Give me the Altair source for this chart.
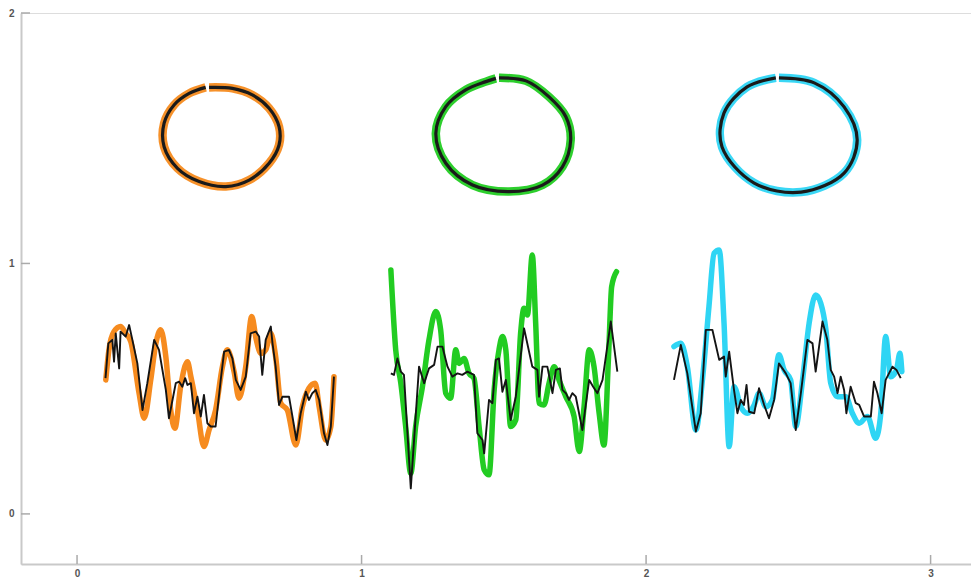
import altair as alt
import pandas as pd

# ---------------- data ----------------
series_names = ["orange", "green", "cyan"]
series_colors = ["#F68B1F", "#22CC22", "#2FD5F4"]

x_ticks = [0, 1, 2, 3]
y_ticks = [0, 1, 2]

# closed-ish loops (start at the top, clockwise, small gap at the end)
orange_loop_x = [0.464, 0.546, 0.616, 0.675, 0.710, 0.710, 0.675, 0.605, 0.523, 0.429,
                 0.353, 0.306, 0.306, 0.341, 0.394, 0.452]
orange_loop_y = [1.703, 1.699, 1.673, 1.620, 1.546, 1.473, 1.400, 1.333, 1.307, 1.327,
                 1.380, 1.466, 1.560, 1.633, 1.679, 1.703]
green_loop_x = [1.483, 1.578, 1.659, 1.718, 1.735, 1.706, 1.636, 1.518, 1.390, 1.296,
                1.261, 1.296, 1.366, 1.437, 1.472]
green_loop_y = [1.741, 1.729, 1.665, 1.586, 1.493, 1.386, 1.313, 1.287, 1.313, 1.400,
                1.520, 1.626, 1.693, 1.726, 1.739]
cyan_loop_x = [2.467, 2.591, 2.696, 2.742, 2.696, 2.545, 2.380, 2.267, 2.274, 2.355, 2.456]
cyan_loop_y = [1.741, 1.721, 1.625, 1.493, 1.361, 1.285, 1.321, 1.465, 1.601, 1.705, 1.741]

# black (reconstruction) traces
orange_black_x = [0.100, 0.110, 0.124, 0.130, 0.136, 0.148, 0.153, 0.171, 0.183, 0.192,
                  0.212, 0.230, 0.247, 0.271, 0.288, 0.312, 0.323, 0.347, 0.359, 0.370,
                  0.380, 0.388, 0.400, 0.411, 0.423, 0.435, 0.446, 0.458, 0.470, 0.487,
                  0.505, 0.517, 0.534, 0.546, 0.558, 0.575, 0.593, 0.610, 0.628, 0.640,
                  0.651, 0.663, 0.681, 0.687, 0.698, 0.710, 0.722, 0.745, 0.757, 0.771,
                  0.786, 0.804, 0.815, 0.827, 0.839, 0.851, 0.868, 0.880, 0.892, 0.903]
orange_black_y = [0.542, 0.681, 0.695, 0.608, 0.721, 0.581, 0.728, 0.708, 0.754, 0.708,
                  0.601, 0.415, 0.522, 0.695, 0.655, 0.495, 0.382, 0.522, 0.528, 0.508,
                  0.542, 0.515, 0.522, 0.402, 0.468, 0.389, 0.475, 0.362, 0.349, 0.349,
                  0.535, 0.648, 0.655, 0.621, 0.535, 0.495, 0.548, 0.721, 0.728, 0.708,
                  0.555, 0.695, 0.748, 0.681, 0.588, 0.435, 0.468, 0.468, 0.389, 0.295,
                  0.402, 0.488, 0.455, 0.482, 0.495, 0.455, 0.322, 0.275, 0.349, 0.548]
green_black_x = [1.103, 1.114, 1.126, 1.138, 1.149, 1.173, 1.202, 1.220, 1.237, 1.255,
                 1.267, 1.284, 1.302, 1.319, 1.337, 1.354, 1.372, 1.395, 1.407, 1.425,
                 1.431, 1.448, 1.460, 1.472, 1.483, 1.495, 1.507, 1.524, 1.542, 1.571,
                 1.600, 1.618, 1.624, 1.636, 1.653, 1.671, 1.683, 1.697, 1.706, 1.718,
                 1.729, 1.741, 1.753, 1.776, 1.800, 1.814, 1.829, 1.847, 1.876, 1.899]
green_black_y = [0.561, 0.555, 0.621, 0.568, 0.555, 0.102, 0.588, 0.522, 0.581, 0.595,
                 0.668, 0.668, 0.588, 0.548, 0.561, 0.555, 0.568, 0.555, 0.322, 0.295,
                 0.242, 0.455, 0.442, 0.615, 0.621, 0.488, 0.535, 0.375, 0.468, 0.741,
                 0.588, 0.575, 0.468, 0.588, 0.588, 0.482, 0.575, 0.581, 0.495, 0.482,
                 0.455, 0.482, 0.468, 0.335, 0.535, 0.508, 0.482, 0.535, 0.768, 0.568]
cyan_black_x = [2.098, 2.122, 2.145, 2.175, 2.192, 2.210, 2.233, 2.257, 2.274, 2.280,
                2.292, 2.309, 2.321, 2.333, 2.344, 2.353, 2.362, 2.380, 2.397, 2.415,
                2.432, 2.450, 2.467, 2.491, 2.508, 2.526, 2.544, 2.567, 2.585, 2.596,
                2.620, 2.637, 2.649, 2.661, 2.673, 2.684, 2.696, 2.704, 2.719, 2.737,
                2.749, 2.766, 2.790, 2.801, 2.813, 2.828, 2.842, 2.866, 2.880, 2.895]
cyan_black_y = [0.535, 0.675, 0.561, 0.329, 0.402, 0.735, 0.735, 0.615, 0.628, 0.548,
                0.648, 0.495, 0.402, 0.455, 0.435, 0.515, 0.408, 0.402, 0.502, 0.435,
                0.382, 0.455, 0.601, 0.561, 0.522, 0.335, 0.482, 0.695, 0.681, 0.568,
                0.768, 0.695, 0.575, 0.548, 0.482, 0.548, 0.495, 0.402, 0.508, 0.442,
                0.435, 0.389, 0.389, 0.528, 0.482, 0.402, 0.535, 0.588, 0.575, 0.542]

# coloured (original) traces
orange_color_x = [0.101, 0.112, 0.130, 0.153, 0.171, 0.189, 0.218, 0.236, 0.259, 0.277,
                  0.294, 0.312, 0.329, 0.344, 0.364, 0.388, 0.400, 0.423, 0.446, 0.464,
                  0.487, 0.511, 0.528, 0.552, 0.569, 0.593, 0.614, 0.630, 0.646, 0.663,
                  0.681, 0.698, 0.716, 0.739, 0.769, 0.792, 0.815, 0.837, 0.851, 0.874,
                  0.892, 0.903]
orange_color_y = [0.535, 0.655, 0.728, 0.748, 0.721, 0.688, 0.482, 0.382, 0.535, 0.681,
                  0.735, 0.628, 0.415, 0.342, 0.508, 0.608, 0.548, 0.415, 0.269, 0.335,
                  0.415, 0.588, 0.655, 0.568, 0.462, 0.588, 0.788, 0.695, 0.641, 0.655,
                  0.721, 0.628, 0.442, 0.415, 0.275, 0.428, 0.502, 0.522, 0.428, 0.295,
                  0.349, 0.548]
green_color_x = [1.103, 1.120, 1.138, 1.155, 1.173, 1.190, 1.214, 1.237, 1.261, 1.278,
                 1.296, 1.313, 1.331, 1.343, 1.360, 1.378, 1.395, 1.413, 1.431, 1.448,
                 1.466, 1.483, 1.495, 1.507, 1.524, 1.542, 1.559, 1.571, 1.583, 1.600,
                 1.612, 1.624, 1.641, 1.659, 1.677, 1.694, 1.718, 1.747, 1.765, 1.782,
                 1.800, 1.817, 1.835, 1.852, 1.868, 1.879, 1.896]
green_color_y = [0.974, 0.655, 0.522, 0.349, 0.162, 0.349, 0.508, 0.695, 0.808, 0.735,
                 0.482, 0.462, 0.655, 0.601, 0.621, 0.561, 0.542, 0.349, 0.176, 0.156,
                 0.495, 0.655, 0.708, 0.655, 0.349, 0.375, 0.721, 0.821, 0.794, 1.034,
                 0.761, 0.442, 0.435, 0.522, 0.588, 0.535, 0.468, 0.389, 0.249, 0.428,
                 0.655, 0.588, 0.402, 0.275, 0.628, 0.907, 0.967]
cyan_color_x = [2.098, 2.122, 2.145, 2.175, 2.198, 2.221, 2.239, 2.257, 2.274, 2.292,
                2.309, 2.333, 2.356, 2.380, 2.397, 2.421, 2.444, 2.467, 2.485, 2.508,
                2.526, 2.550, 2.573, 2.596, 2.614, 2.632, 2.649, 2.673, 2.702, 2.725,
                2.749, 2.778, 2.807, 2.825, 2.842, 2.860, 2.880, 2.892, 2.899]
cyan_color_y = [0.668, 0.681, 0.588, 0.335, 0.535, 0.828, 1.041, 1.054, 0.761, 0.269,
                0.508, 0.428, 0.402, 0.435, 0.482, 0.428, 0.455, 0.635, 0.575, 0.535,
                0.349, 0.535, 0.761, 0.874, 0.841, 0.735, 0.522, 0.468, 0.468, 0.402,
                0.362, 0.389, 0.302, 0.402, 0.708, 0.548, 0.575, 0.641, 0.568]

# ---------------- tables ----------------
def frame(name, xs, ys):
    assert len(xs) == len(ys)
    return pd.DataFrame({"grp": name, "ord": list(range(len(xs))), "x": xs, "y": ys})

loops = pd.concat([frame("orange", orange_loop_x, orange_loop_y),
                   frame("green", green_loop_x, green_loop_y),
                   frame("cyan", cyan_loop_x, cyan_loop_y)], ignore_index=True)
black = pd.concat([frame("orange", orange_black_x, orange_black_y),
                   frame("green", green_black_x, green_black_y),
                   frame("cyan", cyan_black_x, cyan_black_y)], ignore_index=True)
colored = pd.concat([frame("orange", orange_color_x, orange_color_y),
                     frame("green", green_color_x, green_color_y),
                     frame("cyan", cyan_color_x, cyan_color_y)], ignore_index=True)

W, H = 950, 551
TICK_LEN = 9
AXIS_GREY = "#c9c9c9"

xscale = alt.Scale(domain=[-0.197, 3.142], nice=False, zero=False)
yscale = alt.Scale(domain=[-0.2, 2.0], nice=False, zero=False)
xaxis = alt.Axis(values=x_ticks, ticks=False, grid=False, title=None,
                 domainColor=AXIS_GREY, domainWidth=2, labelColor="#555555",
                 labelFontSize=10, labelFont="Liberation Sans", labelPadding=4,
                 labelFontWeight="bold")
yaxis = alt.Axis(values=y_ticks, ticks=False, grid=False, title=None,
                 domainColor=AXIS_GREY, domainWidth=2, labelColor="#555555",
                 labelFontSize=10, labelFont="Liberation Sans", labelPadding=7,
                 labelFontWeight="bold")

X = alt.X("x:Q", scale=xscale, axis=xaxis)
Y = alt.Y("y:Q", scale=yscale, axis=yaxis)
colour = alt.Color("grp:N", scale=alt.Scale(domain=series_names, range=series_colors),
                   legend=None)

loop_colour = alt.Chart(loops).mark_line(
    strokeWidth=8.5, interpolate="catmull-rom", strokeCap="butt", opacity=0.95
).encode(x=X, y=Y, color=colour, order="ord:Q", detail="grp:N")

trace_colour = alt.Chart(colored).mark_line(
    strokeWidth=5.5, interpolate="monotone", strokeCap="round", strokeJoin="round"
).encode(x=X, y=Y, color=colour, order="ord:Q", detail="grp:N")

trace_black = alt.Chart(black).mark_line(
    strokeWidth=1.9, color="#141414", strokeJoin="round"
).encode(x=X, y=Y, order="ord:Q", detail="grp:N")

loop_black = alt.Chart(loops).mark_line(
    strokeWidth=3.2, color="#1a1a1a", interpolate="catmull-rom", strokeCap="butt"
).encode(x=X, y=Y, order="ord:Q", detail="grp:N")

xt = alt.Chart(pd.DataFrame({"x": x_ticks})).mark_rule(
    color="#aaaaaa", strokeWidth=1.5
).encode(x=X, y=alt.value(H), y2=alt.value(H - TICK_LEN))

yt = alt.Chart(pd.DataFrame({"y": y_ticks})).mark_rule(
    color="#aaaaaa", strokeWidth=1.5
).encode(y=Y, x=alt.value(0), x2=alt.value(TICK_LEN))

chart = alt.layer(
    xt, yt, loop_colour, trace_colour, trace_black, loop_black
).properties(
    width=W, height=H, padding=0
).configure_view(stroke=None).configure(background="white")

chart.save("out.html", embed_options={"renderer": "svg", "actions": False})
